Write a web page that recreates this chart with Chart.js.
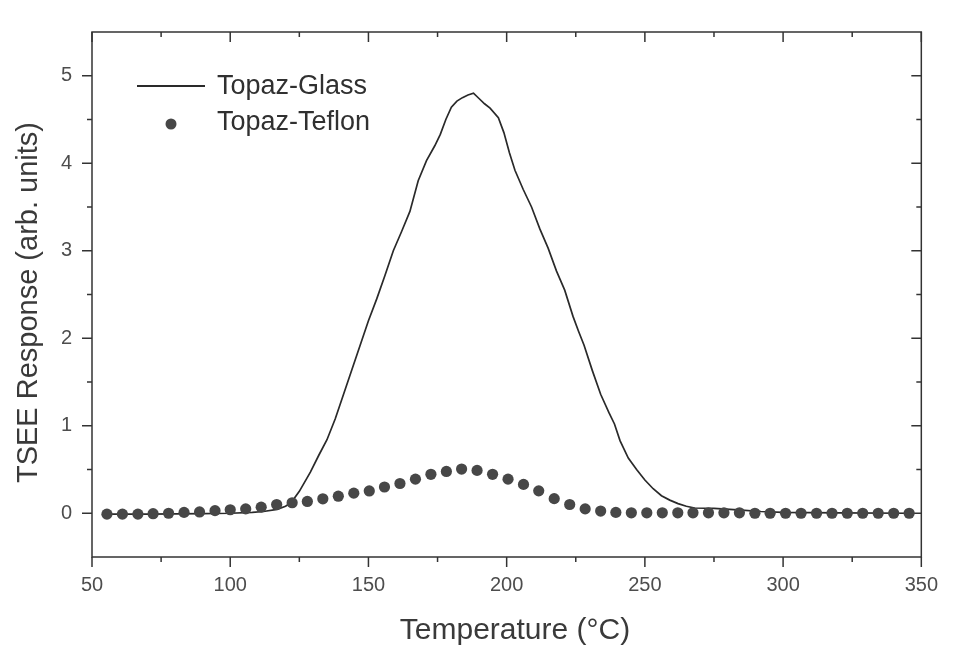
<!DOCTYPE html>
<html><head><meta charset="utf-8">
<script src="https://cdn.jsdelivr.net/npm/chart.js@4.4.1/dist/chart.umd.min.js"></script>
<style>html,body{margin:0;padding:0;background:#fff;} #wrap{width:954px;height:653px;position:relative;}</style>
</head><body><div id="wrap"><canvas id="c" width="954" height="653"></canvas></div>
<script>
// ---- data ----
const glassT = [55, 70, 90, 100, 108, 112, 117, 120, 122, 125, 129, 132, 135, 138, 141, 144, 147, 150, 153, 156, 159, 162, 165, 168, 171, 174, 176, 178, 180, 182, 184, 186, 188, 190, 192, 194, 197, 199, 201, 203, 206, 209, 212, 215, 218, 221, 224, 226, 228, 231, 234, 237, 239, 241, 244, 247, 250, 253, 256, 259, 262, 265, 268, 275, 285, 292, 300, 320, 346];
const glassV = [-0.01, -0.01, -0.005, 0.0, 0.01, 0.02, 0.045, 0.08, 0.12, 0.25, 0.47, 0.66, 0.84, 1.08, 1.36, 1.64, 1.92, 2.2, 2.45, 2.72, 3.0, 3.22, 3.45, 3.8, 4.03, 4.2, 4.33, 4.5, 4.64, 4.71, 4.75, 4.78, 4.8, 4.74, 4.68, 4.63, 4.52, 4.35, 4.12, 3.92, 3.7, 3.5, 3.25, 3.03, 2.77, 2.55, 2.25, 2.08, 1.92, 1.63, 1.36, 1.15, 1.02, 0.83, 0.63, 0.5, 0.38, 0.28, 0.2, 0.15, 0.11, 0.08, 0.06, 0.055, 0.035, 0.02, 0.01, 0.005, 0.0];
const teflonT = [55.4, 61.0, 66.6, 72.1, 77.7, 83.3, 88.9, 94.5, 100.0, 105.6, 111.2, 116.8, 122.4, 127.9, 133.5, 139.1, 144.7, 150.3, 155.8, 161.4, 167.0, 172.6, 178.2, 183.7, 189.3, 194.9, 200.5, 206.1, 211.6, 217.2, 222.8, 228.4, 234.0, 239.5, 245.1, 250.7, 256.3, 261.9, 267.4, 273.0, 278.6, 284.2, 289.8, 295.3, 300.9, 306.5, 312.1, 317.7, 323.2, 328.8, 334.4, 340.0, 345.6];
const teflonV = [-0.01, -0.01, -0.01, -0.005, 0.0, 0.01, 0.015, 0.03, 0.04, 0.05, 0.07, 0.1, 0.12, 0.135, 0.165, 0.195, 0.23, 0.255, 0.3, 0.34, 0.39, 0.445, 0.478, 0.505, 0.49, 0.445, 0.39, 0.33, 0.256, 0.167, 0.1, 0.05, 0.025, 0.01, 0.005, 0.005, 0.005, 0.005, 0.005, 0.005, 0.005, 0.005, 0.0, 0.0, 0.0, 0.0, 0.0, 0.0, 0.0, 0.0, 0.0, 0.0, 0.0];
const seriesNames = ['Topaz-Glass', 'Topaz-Teflon'];
const xMajorTicks = [50, 100, 150, 200, 250, 300, 350];
const xMinorTicks = [75, 125, 175, 225, 275, 325];
const yMajorTicks = [0, 1, 2, 3, 4, 5];
const yMinorTicks = [0.5, 1.5, 2.5, 3.5, 4.5];
const xTitle = 'Temperature (°C)';
const yTitle = 'TSEE Response (arb. units)';

const FONT = "'Liberation Sans', Arial, sans-serif";
const INK = '#333333';

const frameTicks = {
  id: 'frameTicks',
  beforeDatasetsDraw(chart) {
    const {ctx, chartArea: {left, right, top, bottom}, scales: {x, y}} = chart;
    ctx.save();
    ctx.strokeStyle = INK; ctx.lineWidth = 1.5;
    ctx.strokeRect(left, top, right - left, bottom - top);
    const seg = (x1, y1, x2, y2) => { ctx.beginPath(); ctx.moveTo(x1, y1); ctx.lineTo(x2, y2); ctx.stroke(); };
    xMajorTicks.forEach(v => { const p = x.getPixelForValue(v); seg(p, bottom, p, bottom + 10); seg(p, top, p, top + 10); });
    xMinorTicks.forEach(v => { const p = x.getPixelForValue(v); seg(p, bottom, p, bottom + 5); seg(p, top, p, top + 5); });
    yMajorTicks.forEach(v => { const p = y.getPixelForValue(v); seg(left - 10, p, left, p); seg(right - 10, p, right, p); });
    yMinorTicks.forEach(v => { const p = y.getPixelForValue(v); seg(left - 5, p, left, p); seg(right - 5, p, right, p); });
    ctx.restore();
  }
};

const insideLegend = {
  id: 'insideLegend',
  afterDatasetsDraw(chart) {
    const {ctx, chartArea: {left, top}} = chart;
    const ds = chart.data.datasets;
    ctx.save();
    ctx.font = '27px ' + FONT;
    ctx.textBaseline = 'middle';
    ctx.textAlign = 'left';
    ctx.fillStyle = '#303030';
    ctx.strokeStyle = ds[0].borderColor; ctx.lineWidth = 1.8;
    ctx.beginPath(); ctx.moveTo(left + 45, top + 54); ctx.lineTo(left + 113, top + 54); ctx.stroke();
    ctx.fillText(ds[0].label, left + 125, top + 55);
    ctx.fillStyle = ds[1].backgroundColor;
    ctx.beginPath(); ctx.arc(left + 79, top + 92, 5.5, 0, Math.PI * 2); ctx.fill();
    ctx.fillStyle = '#303030';
    ctx.fillText(ds[1].label, left + 125, top + 91);
    ctx.restore();
  }
};

new Chart(document.getElementById('c'), {
  type: 'scatter',
  data: {
    datasets: [
      {
        label: seriesNames[0],
        data: glassT.map((t, i) => ({x: t, y: glassV[i]})),
        showLine: true,
        borderColor: '#2a2a2a',
        borderWidth: 1.7,
        pointRadius: 0,
        tension: 0,
        order: 1
      },
      {
        label: seriesNames[1],
        data: teflonT.map((t, i) => ({x: t, y: teflonV[i]})),
        showLine: false,
        backgroundColor: '#474747',
        borderColor: '#474747',
        borderWidth: 0,
        pointRadius: 5.6,
        order: 0
      }
    ]
  },
  options: {
    responsive: false,
    animation: false,
    devicePixelRatio: 1,
    layout: {padding: {top: 18, right: 23, left: 0, bottom: 0}},
    plugins: {legend: {display: false}, tooltip: {enabled: false}},
    scales: {
      x: {
        type: 'linear', min: 50, max: 350,
        afterBuildTicks: s => { s.ticks = xMajorTicks.map(v => ({value: v})); },
        afterFit: s => { s.height = 96; },
        grid: {display: false, drawTicks: false},
        border: {display: false},
        ticks: {padding: 16, color: '#4d4d4d', font: {family: FONT, size: 20}},
        title: {display: true, text: '  ' + xTitle, color: '#3a3a3a', font: {family: FONT, size: 30}, padding: {top: 0, bottom: 4}}
      },
      y: {
        type: 'linear', min: -0.5, max: 5.5,
        afterBuildTicks: s => { s.ticks = yMajorTicks.map(v => ({value: v})); },
        afterFit: s => { s.width = 92; },
        grid: {display: false, drawTicks: false},
        border: {display: false},
        ticks: {padding: 20, color: '#4d4d4d', font: {family: FONT, size: 20}},
        title: {display: true, text: yTitle + '  ', color: '#3a3a3a', font: {family: FONT, size: 29}, padding: {top: 12, bottom: 0}}
      }
    }
  },
  plugins: [frameTicks, insideLegend]
});
</script>
</body></html>
